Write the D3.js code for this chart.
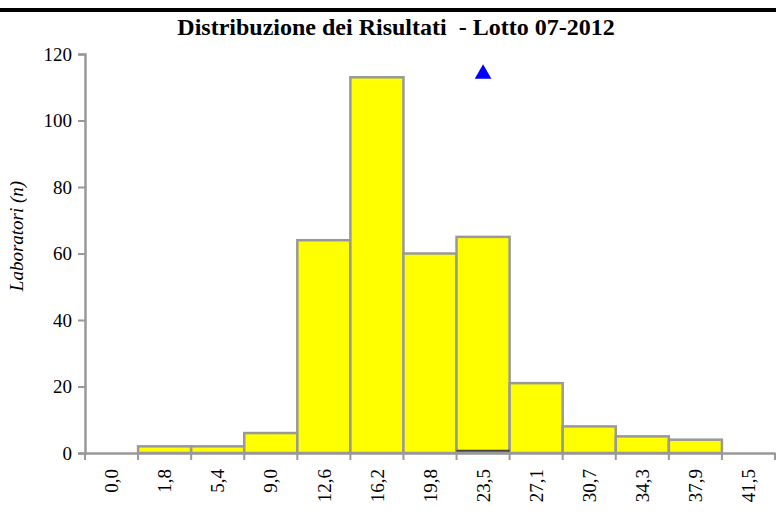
<!DOCTYPE html>
<html><head><meta charset="utf-8">
<script src="https://cdn.jsdelivr.net/npm/d3@7"></script>
<style>body{margin:0;background:#fff}svg{display:block}</style>
</head><body>
<svg id="c" width="776" height="515"></svg>
<script>
const categories = ["0,0","1,8","5,4","9,0","12,6","16,2","19,8","23,5","27,1","30,7","34,3","37,9","41,5"];
const counts = [0,2,2,6,64,113,60,65,21,8,5,4,0];
const markerCategory = ["23,5"];
const markerValue = [114];
const refLineCategory = ["23,5"];
const refLineValue = [0.7];
const yTicks = [0,20,40,60,80,100,120];

const svg = d3.select("#c");
const W = 776, H = 515;
const m = {l:85, r:1, t:54, b:62};
const x = d3.scaleBand().domain(categories).range([m.l, W - m.r]).padding(0);
const y = d3.scaleLinear().domain([0,120]).range([H - m.b, m.t]);
const grey = "#999999";
const font = "'Liberation Serif','Times New Roman',serif";

// top border
svg.append("line").attr("x1",0).attr("x2",W).attr("y1",10).attr("y2",10)
  .attr("stroke","#000").attr("stroke-width",4);

// title
svg.append("text").attr("x",396).attr("y",35).attr("text-anchor","middle")
  .style("font-family",font).style("font-weight","bold").style("font-size","24px")
  .attr("xml:space","preserve")
  .text("Distribuzione dei Risultati  - Lotto 07-2012");

// bars
svg.append("g").selectAll("rect").data(categories).join("rect")
  .attr("x", d => x(d)).attr("width", x.bandwidth())
  .attr("y", (d,i) => y(counts[i])).attr("height", (d,i) => y(0) - y(counts[i]))
  .attr("fill", "#ffff00").attr("stroke", grey).attr("stroke-width", 2.5);

// reference line
svg.append("g").selectAll("line").data(refLineCategory).join("line")
  .attr("x1", d => x(d)).attr("x2", d => x(d) + x.bandwidth())
  .attr("y1", (d,i) => y(refLineValue[i])).attr("y2", (d,i) => y(refLineValue[i]))
  .attr("stroke","#444").attr("stroke-width",2);

// y axis
const ya = svg.append("g").attr("transform",`translate(${m.l},0)`)
  .call(d3.axisLeft(y).tickValues(yTicks).tickSize(7).tickPadding(6).tickFormat(d3.format("d")));
ya.attr("font-family",null).attr("font-size",null);
ya.select(".domain").attr("stroke",grey).attr("stroke-width",2.5);
ya.selectAll(".tick line").attr("stroke",grey).attr("stroke-width",2);
ya.selectAll("text").style("font-family",font).style("font-size","19px").attr("fill","#000");

// x axis
const xa = svg.append("g").attr("transform",`translate(0,${y(0)})`)
  .call(d3.axisBottom(x).tickSize(0).tickSizeOuter(0));
xa.attr("font-family",null).attr("font-size",null);
xa.select(".domain").attr("stroke",grey).attr("stroke-width",2.5);
xa.selectAll(".tick line").remove();
xa.selectAll(".tick text").style("font-family",font).style("font-size","19px").attr("fill","#000")
  .attr("transform","rotate(-90)").attr("text-anchor","end").attr("dy","0.35em")
  .attr("x",-16).attr("y",0);
// boundary ticks
const bounds = categories.map(c => x(c)).concat([x(categories[categories.length-1]) + x.bandwidth()]);
xa.append("g").selectAll("line").data(bounds).join("line")
  .attr("x1", d => d).attr("x2", d => d).attr("y1",0).attr("y2",7)
  .attr("stroke",grey).attr("stroke-width",2);

// y label
svg.append("text").attr("transform",`translate(23,236) rotate(-90)`)
  .attr("text-anchor","middle").style("font-family",font).style("font-style","italic")
  .style("font-size","19px").text("Laboratori (n)");

// marker triangle
svg.append("g").selectAll("path").data(markerCategory).join("path")
  .attr("d", d3.symbol().type(d3.symbolTriangle).size(120))
  .attr("transform",(d,i) => `translate(${x(d)+x.bandwidth()/2},${y(markerValue[i])})`)
  .attr("fill","#0000ff");
</script>
</body></html>
